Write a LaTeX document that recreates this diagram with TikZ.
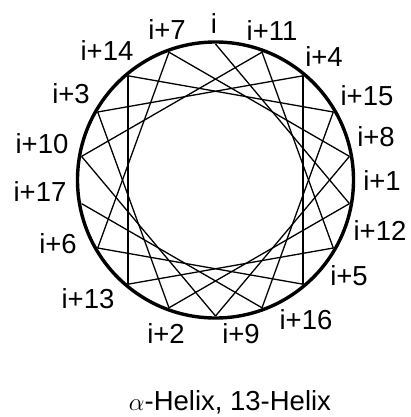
\documentclass[tikz,border=0pt]{standalone}
\usepackage{fontspec}
\setmainfont{Liberation Sans}
\begin{document}
\begin{tikzpicture}[x=1pt,y=-1pt,
  lab/.style={font=\fontsize{27.5}{30}\selectfont, inner sep=0pt},
  chord/.style={line width=1.3pt, line join=miter},
  rim/.style={line width=3.4pt}]
\useasboundingbox (0,0) rectangle (411,417);
\node[draw=none, circle, minimum size=276pt, inner sep=0pt] (wheel) at (215.5,180) {};
\draw[rim] (215.5,180) circle[radius=138];
\foreach \k in {0,...,17}{
  \coordinate (p\k) at ({215.5+136*cos(90-100*\k)},{180-136*sin(90-100*\k)});
}
\foreach \k [evaluate=\k as \n using int(\k+1)] in {0,...,16}{
  \draw[chord] (p\k) -- (p\n);
}
\node[lab] (l0)  at (214,24)  {i};
\node[lab] (l7)  at (167,30)  {i+7};
\node[lab] (l11) at (272,31)  {i+11};
\node[lab] (l14) at (107,51)  {i+14};
\node[lab] (l4)  at (324,57)  {i+4};
\node[lab] (l3)  at (71,94)   {i+3};
\node[lab] (l15) at (367,96)  {i+15};
\node[lab] (l10) at (42,144)  {i+10};
\node[lab] (l8)  at (376,137) {i+8};
\node[lab] (l17) at (40,192)  {i+17};
\node[lab] (l1)  at (382,181) {i+1};
\node[lab] (l6)  at (58,244)  {i+6};
\node[lab] (l12) at (380,231) {i+12};
\node[lab] (l5)  at (349,276) {i+5};
\node[lab] (l13) at (88,299)  {i+13};
\node[lab] (l16) at (306,320) {i+16};
\node[lab] (l2)  at (166,334) {i+2};
\node[lab] (l9)  at (241,334) {i+9};
\node[lab, anchor=base] (cap) at (230,410) {\(\alpha\)-Helix, 13-Helix};
\end{tikzpicture}
\end{document}
